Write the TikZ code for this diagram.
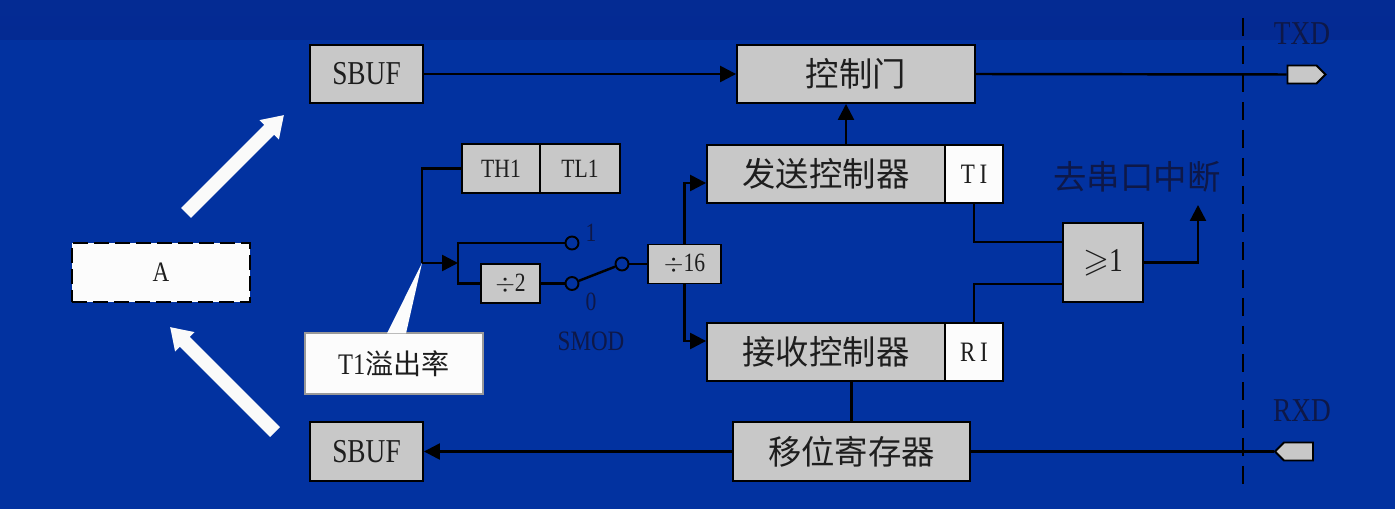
\documentclass[tikz,border=0pt]{standalone}
\usepackage{fontspec}
\usepackage{amssymb}
\setmainfont{Liberation Serif}[FakeStretch=0.82]
\newfontfamily\cjk{Noto Sans CJK SC}
\usetikzlibrary{arrows.meta,positioning,shapes.symbols}
\definecolor{bgblue}{RGB}{2,50,160}
\definecolor{bgtop}{RGB}{4,42,146}
\definecolor{boxgray}{RGB}{200,200,200}
\definecolor{inknavy}{RGB}{14,24,72}
\definecolor{inkdark}{RGB}{30,30,30}
\newcommand\zhbig{\cjk\fontsize{19}{21}\selectfont}
\newcommand\lat[1]{\fontsize{#1}{#1}\selectfont}
\tikzset{
    gbox/.style={
        draw=black,line width=1.1pt,fill=boxgray,inner sep=0pt,text=inkdark
    },
    wbox/.style={gbox,fill=white!98!gray},
    wire/.style={line width=1.4pt,draw=black},
    flow/.style={wire,-{Triangle[length=0.32cm,width=0.32cm]}},
    contact/.style={
        circle,draw=black,line width=1.1pt,minimum size=0.26cm,inner sep=0pt
    },
    port/.style={
        signal,signal to=#1,draw=black,line width=1.1pt,fill=boxgray,
        minimum width=0.76cm,minimum height=0.36cm,inner sep=0pt
    },
    lbl/.style={text=inknavy,inner sep=0pt},
    bigarrow/.style={draw=white!96!gray,line width=0.28cm,
        -{Triangle[length=0.42cm,width=0.52cm]}}
}

\begin{document}
\begin{tikzpicture}[x=0.02cm,y=-0.02cm]

% background
\fill[bgblue] (0,0) rectangle (1395,509);
\shade[top color=bgtop!90!bgblue,bottom color=bgtop] (0,0) rectangle (1395,40);
\useasboundingbox (0,0) rectangle (1395,509);

% transmit side
\node[gbox,minimum width=2.26cm,minimum height=1.16cm,font=\lat{19}]
(sbufT) at (366.5,74) {SBUF};
\node[gbox,minimum width=4.76cm,minimum height=1.16cm,font=\zhbig]
(gate) at (856,74) {控制门};
\node[gbox,minimum width=4.76cm,minimum height=1.16cm,font=\zhbig]
(send) at (826,174) {发送控制器};
\node[wbox,minimum width=1.16cm,minimum height=1.16cm,font=\lat{16}]
(ti) at (974,174) {T\,I};
\node[port=east] (txd) at (1302,74.5) {};
\node[lbl,font=\lat{19}] (txdtext) at (1302,34) {TXD};

% receive side
\node[gbox,minimum width=4.76cm,minimum height=1.16cm,font=\zhbig]
(recv) at (826,352) {接收控制器};
\node[wbox,minimum width=1.16cm,minimum height=1.16cm,font=\lat{16}]
(ri) at (974,352) {R\,I};
\node[gbox,minimum width=4.74cm,minimum height=1.18cm,font=\zhbig]
(shift) at (851.5,451.5) {移位寄存器};
\node[gbox,minimum width=2.26cm,minimum height=1.18cm,font=\lat{19}]
(sbufB) at (366.5,451.5) {SBUF};
\node[port=west] (rxd) at (1298.5,451.5) {};
\node[lbl,font=\lat{19}] (rxdtext) at (1302,411) {RXD};

% interrupt
\node[gbox,minimum width=1.6cm,minimum height=1.58cm,font=\lat{19}]
(orgate) at (1103,262.5) {$\geqslant$1};
\node[lbl,font=\zhbig] (irqtext) at (1137,177) {去串口中断};
\coordinate (irq) at (1198,205);

% baud rate
\node[gbox,minimum width=1.56cm,minimum height=0.98cm,font=\lat{15}]
(th) at (501,168.5) {TH1};
\node[gbox,minimum width=1.6cm,minimum height=0.98cm,font=\lat{15}]
(tl) at (580,168.5) {TL1};
\node[gbox,minimum width=1.18cm,minimum height=0.78cm,font=\lat{15}]
(div2) at (510.5,283.5) {$\div$2};
\node[gbox,minimum width=1.46cm,minimum height=0.78cm,font=\lat{15}]
(div16) at (684.5,264) {$\div$16};
\node[contact] (s1) at (572,243) {};
\node[contact] (s0) at (572,283.5) {};
\node[contact] (sc) at (622,264) {};
\node[lbl,font=\lat{15}] (one) at (591,233) {1};
\node[lbl,font=\lat{15}] (zero) at (591,302) {0};
\node[lbl,font=\lat{16}] (smod) at (591,341) {SMOD};
\coordinate (split) at (422,263);
\coordinate (fork) at (458,263);

% left
\node[wbox,dashed,dash pattern=on 0.3cm off 0.12cm,
minimum width=3.56cm,minimum height=1.18cm,font=\lat{16}]
(acc) at (161,272.5) {A};
\node[wbox,draw=black!40,line width=0.6pt,
minimum width=3.56cm,minimum height=1.22cm,font=\cjk\fontsize{16}{18}\selectfont]
(note) at (394,363.5) {{\rmfamily\lat{17}T1}溢出率};
\fill[white!98!gray] ([xshift=-0.14cm,yshift=-0.02cm]note.north) -- (split)
    -- ([xshift=0.24cm,yshift=-0.02cm]note.north) -- cycle;

\coordinate (upTail) at (186,213);
\coordinate (upTip) at (284,115);
\coordinate (dnTail) at (275,432);
\coordinate (dnTip) at (170,327);
\draw[bigarrow] (upTail) -- (upTip);
\draw[bigarrow] (dnTail) -- (dnTip);

% bus boundary
\coordinate (busTop) at (1243,18);
\coordinate (busBot) at (1243,490);
\draw[black,line width=1.2pt,dash pattern=on 0.36cm off 0.2cm] (busTop) -- (busBot);

% connections
\draw[flow] (sbufT.east) -- (gate.west);
\draw[wire] (gate.east) -- (txd.west);
\draw[flow] (846,0 |- send.north) -- (846,0 |- gate.south);
\draw[wire] (ti.south) |- ([yshift=-0.4cm]orgate.north west);
\draw[wire] (ri.north) |- ([yshift=0.38cm]orgate.south west);
\draw[flow] (orgate.east) -| (irq);
\draw[wire] (shift.north |- recv.south) -- (shift.north);
\draw[flow] (shift.west) -- (sbufB.east);
\draw[wire] (shift.east) -- (rxd.west);

\draw[wire] (th.west) -| (split);
\draw[flow] (split) -- (fork);
\draw[wire] (fork) |- (s1.west);
\draw[wire] (fork) |- (div2.west);
\draw[wire] (div2.east) -- (s0.west);
\draw[wire] (s0) -- (sc);
\draw[wire] (sc.east) -- (div16.west);
\draw[flow] (div16.north) |- ([yshift=-0.18cm]send.west);
\draw[flow] (div16.south) |- ([yshift=0.22cm]recv.west);

\end{tikzpicture}
\end{document}
